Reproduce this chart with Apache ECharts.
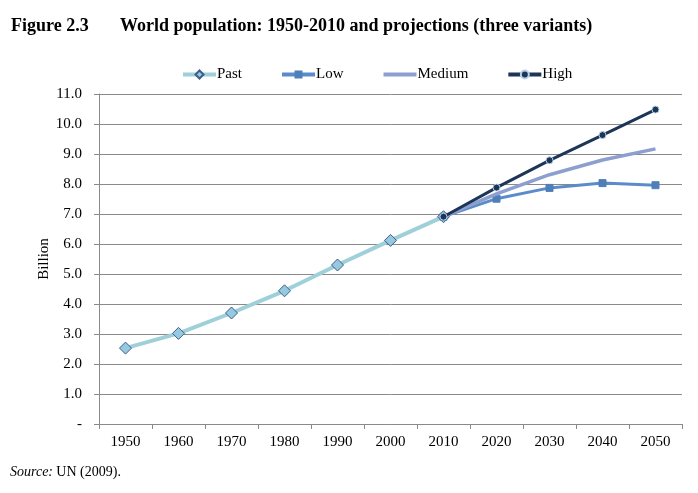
<!DOCTYPE html>
<html>
<head>
<meta charset="utf-8">
<script src="https://cdn.jsdelivr.net/npm/echarts@6/dist/echarts.min.js"></script>
<style>html,body{margin:0;padding:0;background:#fff}#c{width:698px;height:493px}</style>
</head>
<body>
<div id="c"></div>
<script>
const years = ['1950','1960','1970','1980','1990','2000','2010','2020','2030','2040','2050'];
const past   = [2.53, 3.02, 3.70, 4.44, 5.30, 6.12, 6.91, null, null, null, null];
const low    = [null, null, null, null, null, null, 6.91, 7.51, 7.87, 8.03, 7.96];
const medium = [null, null, null, null, null, null, 6.91, 7.67, 8.31, 8.80, 9.17];
const high   = [null, null, null, null, null, null, 6.91, 7.88, 8.79, 9.63, 10.48];
const yTicks = { min: 0, max: 11, interval: 1 };

const serif = '"Liberation Serif", "Times New Roman", serif';
const chart = echarts.init(document.getElementById('c'), null, {renderer: 'canvas'});
chart.setOption({
  animation: false,
  backgroundColor: '#fff',
  graphic: [
    {type: 'text', left: 11, top: 17, style: {text: 'Figure 2.3', font: 'bold 18px ' + serif, fill: '#000'}},
    {type: 'text', left: 120, top: 17, style: {text: 'World population: 1950-2010 and projections (three variants)', font: 'bold 18px ' + serif, fill: '#000'}},
    {type: 'text', x: 44, y: 259, rotation: Math.PI / 2, style: {text: 'Billion', font: '15px ' + serif, fill: '#000', align: 'center', verticalAlign: 'middle'}},
    {type: 'text', left: 10, top: 465, style: {
      text: '{i|Source:} {n|UN (2009).}',
      rich: {i: {fontStyle: 'italic', fontFamily: serif, fontSize: 14, fill: '#000'}, n: {fontFamily: serif, fontSize: 14, fill: '#000'}}
    }}
  ],
  legend: {
    left: 176, top: 62,
    itemWidth: 33, itemHeight: 10, itemGap: 38,
    textStyle: {fontFamily: serif, fontSize: 15, color: '#000', padding: [0,0,0,-4]},
    lineStyle: {width: 4},
    data: ['Past', 'Low', {name: 'Medium', itemStyle: {opacity: 0}}, 'High']
  },
  grid: {left: 99, right: 16, top: 94, bottom: 69},
  xAxis: {
    type: 'category', data: years, boundaryGap: true,
    axisLine: {lineStyle: {color: '#8a8a8a', width: 1}},
    axisTick: {show: true, length: 5, inside: false, lineStyle: {color: '#8a8a8a'}},
    axisLabel: {fontFamily: serif, fontSize: 15, color: '#000', margin: 11},
    splitLine: {show: false}
  },
  yAxis: {
    type: 'value', min: yTicks.min, max: yTicks.max, interval: yTicks.interval,
    axisLine: {show: true, lineStyle: {color: '#8a8a8a', width: 1}},
    axisTick: {show: true, length: 5, lineStyle: {color: '#8a8a8a'}},
    axisLabel: {fontFamily: serif, fontSize: 15, color: '#000', margin: 17,
      formatter: v => v === 0 ? '-' : v.toFixed(1)},
    splitLine: {show: true, lineStyle: {color: '#8a8a8a', width: 1}}
  },
  series: [
    {name: 'Past', type: 'line', data: past, symbol: 'diamond', symbolSize: 12,
     lineStyle: {color: '#9fd0da', width: 4}, itemStyle: {color: '#96c9e0', borderColor: '#3b5f86', borderWidth: 1}, z: 2},
    {name: 'Low', type: 'line', data: low, symbol: 'rect', symbolSize: 7, showSymbol: true,
     lineStyle: {color: '#5a8ccc', width: 3}, itemStyle: {color: '#4f7fb9', borderColor: '#4f7fb9'}, z: 3},
    {name: 'Medium', type: 'line', data: medium, symbol: 'none', smooth: false,
     lineStyle: {color: '#8d9fcf', width: 3.5}, itemStyle: {color: '#8d9fcf'}, z: 4},
    {name: 'High', type: 'line', data: high, symbol: 'circle', symbolSize: 7,
     lineStyle: {color: '#1d3557', width: 3}, itemStyle: {color: '#1d3557', borderColor: '#b7d2e6', borderWidth: 1}, z: 5}
  ]
});
</script>
</body>
</html>
